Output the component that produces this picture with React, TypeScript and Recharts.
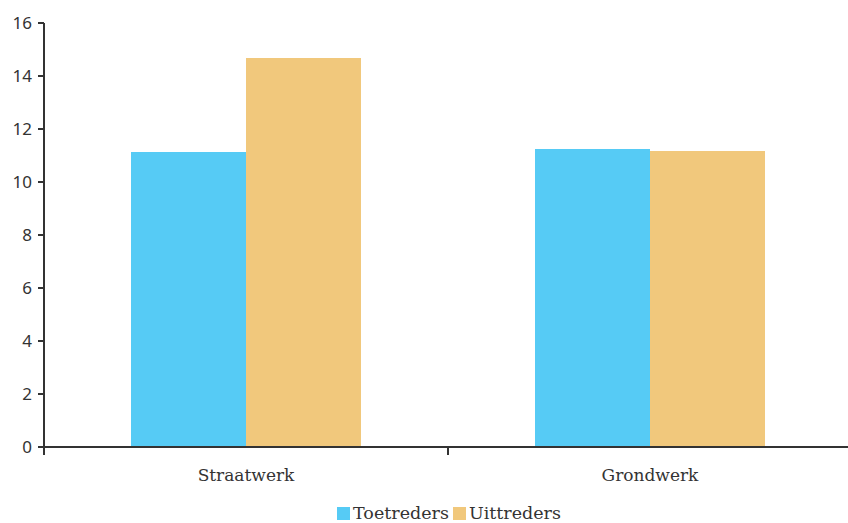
import React from 'react';
import { BarChart, Bar, XAxis, YAxis, Legend } from 'recharts';

const categories = ['Straatwerk', 'Grondwerk'];
const toetreders = [11.13, 11.25];
const uittreders = [14.68, 11.17];
const yTicks = [0, 2, 4, 6, 8, 10, 12, 14, 16];

const data = categories.map((name, i) => ({
  name,
  Toetreders: toetreders[i],
  Uittreders: uittreders[i]
}));

const AXIS = '#333333';
const SERIF = '"DejaVu Serif", "Liberation Serif", serif';

function CategoryTick(props: any) {
  const { x, y, payload } = props;
  const half = payload?.offset ?? 202;
  return (
    <g>
      <line x1={x - half} x2={x - half} y1={y - 8} y2={y} stroke={AXIS} strokeWidth={2} />
      <text x={x} y={y + 26} textAnchor="middle" fill="#333" fontFamily={SERIF} fontSize={17}>
        {payload.value}
      </text>
    </g>
  );
}

function LegendContent() {
  const items = [
    { label: 'Toetreders', color: '#56CBF5' },
    { label: 'Uittreders', color: '#F1C87C' }
  ];
  return (
    <div style={{ display: 'flex', justifyContent: 'center', gap: 4, paddingLeft: 46, fontFamily: SERIF, fontSize: 17.5, color: '#333' }}>
      {items.map((it) => (
        <div key={it.label} style={{ display: 'flex', alignItems: 'center' }}>
          <span style={{ width: 13, height: 13, background: it.color, display: 'inline-block', marginRight: 3 }} />
          <span>{it.label}</span>
        </div>
      ))}
    </div>
  );
}

export default function App() {
  return (
    <div style={{ position: 'absolute', left: 0, top: 0, width: 848, height: 523, overflow: 'hidden', background: '#fff' }}>
      <BarChart
        width={852}
        height={523}
        data={data}
        margin={{ top: 23, right: 0, bottom: 0, left: 0 }}
        barCategoryGap={87}
        barGap={0}
      >
        <XAxis
          dataKey="name"
          height={50}
          axisLine={{ stroke: AXIS, strokeWidth: 2 }}
          tickLine={false}
          tick={<CategoryTick />}
          interval={0}
        />
        <YAxis
          width={44}
          domain={[0, 16]}
          ticks={yTicks}
          axisLine={{ stroke: AXIS, strokeWidth: 2 }}
          tickLine={{ stroke: AXIS, strokeWidth: 2 }}
          tickSize={6}
          tickMargin={6}
          tick={{ fill: '#333', fontSize: 17, fontFamily: '"Noto Sans", sans-serif' }}
        />
        <Legend verticalAlign="bottom" height={26} wrapperStyle={{ bottom: -6 }} content={<LegendContent />} />
        <Bar dataKey="Toetreders" fill="#56CBF5" isAnimationActive={false} />
        <Bar dataKey="Uittreders" fill="#F1C87C" isAnimationActive={false} />
      </BarChart>
    </div>
  );
}
